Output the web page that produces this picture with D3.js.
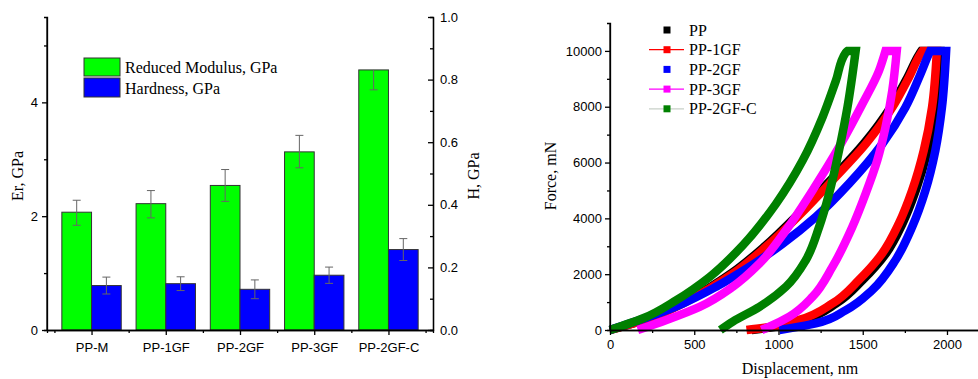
<!DOCTYPE html>
<html>
<head>
<meta charset="utf-8">
<script src="https://cdn.jsdelivr.net/npm/d3@7"></script>
<style>
  body { margin: 0; background: #fff; }
  .tick text { font-family: "Liberation Sans", Arial, sans-serif; font-size: 13px; fill: #000; }
  .serif { font-family: "Liberation Serif", "Times New Roman", serif; font-size: 16px; fill: #000; }
</style>
</head>
<body>
<svg id="chart" width="978" height="379"></svg>
<script>
// bar chart data
const categories = ["PP-M", "PP-1GF", "PP-2GF", "PP-3GF", "PP-2GF-C"];
const modulus = [2.07, 2.22, 2.54, 3.13, 4.57];
const modulusErrUp = [0.21, 0.23, 0.28, 0.29, 0];
const modulusErrDown = [0.23, 0.25, 0.28, 0.28, 0.35];
const hardness = [0.142, 0.148, 0.130, 0.175, 0.257];
const hardnessErr = [0.027, 0.022, 0.030, 0.026, 0.035];
const erTicks = [0, 2, 4];
const hTicks = [0, 0.2, 0.4, 0.6, 0.8, 1.0];

// load-displacement curves, [displacement nm, force mN]: loading, hold at max, unloading
const ppLoad = [[0,0],[232,425],[428,960],[585,1500],[722,2040],[918,3000],[1115,4140],[1312,5390],[1508,6690],[1667,8000],[1766,9060],[1836,9890],[1848,10000]];
const ppUnload = [[1960,10000],[1932,7970],[1885,6430],[1815,5000],[1736,3810],[1638,2740],[1500,1790],[1343,950],[1150,360],[990,120],[840,0]];
const pp1gfLoad = [[0,0],[236,420],[433,950],[591,1490],[729,2020],[926,2980],[1123,4110],[1320,5360],[1517,6660],[1675,7970],[1773,9040],[1842,9880],[1855,10000]];
const pp1gfUnload = [[1940,10000],[1911,7970],[1862,6430],[1793,5000],[1714,3810],[1615,2740],[1477,1790],[1320,950],[1123,360],[965,120],[810,0]];
const pp2gfLoad = [[0,0],[236,480],[433,950],[630,1550],[827,2260],[1024,3090],[1221,4050],[1418,5240],[1615,6660],[1753,7970],[1842,9160],[1891,9880],[1900,10000]];
const pp2gfUnload = [[1995,10000],[1970,7970],[1931,6430],[1872,5000],[1793,3690],[1694,2500],[1556,1430],[1399,710],[1221,240],[1064,60],[1005,0]];
const pp3gfLoad = [[165,0],[335,360],[532,830],[729,1550],[887,2380],[1044,3570],[1202,5000],[1359,6550],[1497,8090],[1596,9280],[1635,10000]];
const pp3gfUnload = [[1702,10000],[1675,8570],[1635,7260],[1586,6070],[1517,4880],[1438,3690],[1320,2260],[1202,1190],[1064,480],[946,120],[900,0]];
const pp2gfcLoad = [[0,0],[197,420],[394,1070],[591,1900],[788,3030],[985,4520],[1143,6070],[1261,7620],[1340,8920],[1399,9940],[1410,10000]];
const pp2gfcUnload = [[1458,10000],[1409,7970],[1359,6430],[1300,4880],[1241,3690],[1162,2500],[1044,1550],[887,830],[729,300],[655,0]];

const curveNames = ["PP", "PP-1GF", "PP-2GF", "PP-3GF", "PP-2GF-C"];
const curveColors = ["#000000", "#ff0000", "#0000ff", "#ff00ff", "#008000"];
const legendLines = [null, "#ff0000", null, "#ff00ff", "#c8d0c8"];
const forceTicks = [0, 2000, 4000, 6000, 8000, 10000];
const dispTicks = [0, 500, 1000, 1500, 2000];

const svg = d3.select("#chart");

// ---------- left: bar chart ----------
const bx = d3.scaleLinear().domain([0.4, 5.6]).range([47, 433]);
const byL = d3.scaleLinear().domain([0, 5.5]).range([330, 17]);
const byR = d3.scaleLinear().domain([0, 1]).range([330, 17]);
const barW = 0.4;

const bars = svg.append("g");
categories.forEach((c, i) => {
  const cx = i + 1;
  bars.append("rect")
    .attr("x", bx(cx - barW)).attr("width", bx(cx) - bx(cx - barW))
    .attr("y", byL(modulus[i])).attr("height", byL(0) - byL(modulus[i]))
    .attr("fill", "#00ff00").attr("stroke", "#333").attr("stroke-width", 1);
  bars.append("rect")
    .attr("x", bx(cx)).attr("width", bx(cx + barW) - bx(cx))
    .attr("y", byR(hardness[i])).attr("height", byR(0) - byR(hardness[i]))
    .attr("fill", "#0000ff").attr("stroke", "#333").attr("stroke-width", 1);
});

// error bars
function errBar(g, x, y0, y1, capTop, capBottom) {
  g.append("line").attr("x1", x).attr("x2", x).attr("y1", y0).attr("y2", y1)
    .attr("stroke", "#666").attr("stroke-width", 1);
  if (capTop) g.append("line").attr("x1", x - 4).attr("x2", x + 4).attr("y1", y1).attr("y2", y1)
    .attr("stroke", "#666").attr("stroke-width", 1);
  if (capBottom) g.append("line").attr("x1", x - 4).attr("x2", x + 4).attr("y1", y0).attr("y2", y0)
    .attr("stroke", "#666").attr("stroke-width", 1);
}
const errs = svg.append("g");
categories.forEach((c, i) => {
  const gx = bx(i + 1 - barW / 2);
  errBar(errs, gx, byL(modulus[i] - modulusErrDown[i]), byL(modulus[i] + modulusErrUp[i]),
    modulusErrUp[i] > 0, modulusErrDown[i] > 0);
  const hx = bx(i + 1 + barW / 2);
  errBar(errs, hx, byR(hardness[i] - hardnessErr[i]), byR(hardness[i] + hardnessErr[i]), true, true);
});

// axes
const axL = svg.append("g").attr("transform", "translate(47,0)");
axL.call(d3.axisLeft(byL).tickValues(erTicks).tickSize(5).tickSizeOuter(0).tickPadding(4).tickFormat(d3.format("d")));
axL.append("g").call(d3.axisLeft(byL).tickValues([1, 3, 5]).tickSize(3).tickFormat(""));
axL.select(".domain").attr("d", "M0," + byL(5.5) + "V" + byL(0));

const axR = svg.append("g").attr("transform", "translate(433,0)");
axR.call(d3.axisRight(byR).tickValues(hTicks).tickSizeInner(-5).tickSizeOuter(0).tickPadding(7)
  .tickFormat(d3.format(".1f")));
axR.append("g").call(d3.axisRight(byR).tickValues([0.1, 0.3, 0.5, 0.7, 0.9]).tickSize(-3).tickFormat(""));

const axB = svg.append("g").attr("transform", "translate(0,330)");
axB.call(d3.axisBottom(bx).tickValues([1, 2, 3, 4, 5]).tickSize(5).tickSizeOuter(0).tickPadding(8)
  .tickFormat((d) => categories[d - 1]));
axB.append("g").call(d3.axisBottom(bx).tickValues([0.5, 1.5, 2.5, 3.5, 4.5, 5.5]).tickSize(3).tickFormat(""));

svg.append("text").attr("class", "serif")
  .attr("transform", "translate(23,176) rotate(-90)").attr("text-anchor", "middle").text("Er, GPa");
svg.append("text").attr("class", "serif")
  .attr("transform", "translate(479,176) rotate(-90)").attr("text-anchor", "middle").text("H, GPa");

// bar legend
const bl = svg.append("g");
bl.append("rect").attr("x", 84).attr("y", 58).attr("width", 36).attr("height", 18)
  .attr("fill", "#00ff00").attr("stroke", "#333");
bl.append("rect").attr("x", 84).attr("y", 78).attr("width", 36).attr("height", 19)
  .attr("fill", "#0000ff").attr("stroke", "#333");
bl.append("text").attr("class", "serif").attr("x", 125).attr("y", 73).text("Reduced Modulus, GPa");
bl.append("text").attr("class", "serif").attr("x", 125).attr("y", 94).text("Hardness, GPa");

// ---------- right: load-displacement ----------
const lx = d3.scaleLinear().domain([0, 2190]).range([610, 979]);
const ly = d3.scaleLinear().domain([0, 11000]).range([330, 23]);

const branch = d3.line().x((d) => lx(d[0])).y((d) => ly(d[1])).curve(d3.curveMonotoneY);
const loads = [ppLoad, pp1gfLoad, pp2gfLoad, pp3gfLoad, pp2gfcLoad];
const unloads = [ppUnload, pp1gfUnload, pp2gfUnload, pp3gfUnload, pp2gfcUnload];
const cg = svg.append("g");
loads.forEach((ld, i) => {
  // loading branch, then straight hold at max force, then unloading branch in one path
  const d = branch(ld) + "L" + branch(unloads[i]).slice(1);
  cg.append("path")
    .attr("d", d)
    .attr("fill", "none")
    .attr("stroke", curveColors[i])
    .attr("stroke-width", 8.5)
    .attr("stroke-linejoin", "miter")
    .attr("stroke-miterlimit", 10);
});

const ayL = svg.append("g").attr("transform", "translate(610,0)");
ayL.call(d3.axisLeft(ly).tickValues(forceTicks).tickSize(5).tickSizeOuter(0).tickPadding(3).tickFormat(d3.format("d")));
ayL.append("g").call(d3.axisLeft(ly).tickValues([1000, 3000, 5000, 7000, 9000]).tickSize(3).tickFormat(""));
ayL.select(".domain").attr("d", "M0," + ly(11000) + "V" + ly(0));

const axX = svg.append("g").attr("transform", "translate(0,330)");
axX.call(d3.axisBottom(lx).tickValues(dispTicks).tickSize(5).tickSizeOuter(0).tickPadding(5).tickFormat(d3.format("d")));
axX.append("g").call(d3.axisBottom(lx).tickValues([250, 750, 1250, 1750]).tickSize(3).tickFormat(""));

svg.selectAll(".domain, .tick line").attr("stroke", "#000").attr("stroke-width", 1.3);

svg.append("text").attr("class", "serif")
  .attr("transform", "translate(556,176) rotate(-90)").attr("text-anchor", "middle").text("Force, mN");
svg.append("text").attr("class", "serif")
  .attr("x", 800).attr("y", 374).attr("text-anchor", "middle").text("Displacement, nm");

// curve legend
const cl = svg.append("g");
curveNames.forEach((n, i) => {
  const y = 30 + i * 19.7;
  if (legendLines[i]) {
    cl.append("line").attr("x1", 649).attr("x2", 684).attr("y1", y).attr("y2", y)
      .attr("stroke", legendLines[i]).attr("stroke-width", 1.3);
  }
  cl.append("rect").attr("x", 663.5).attr("y", y - 3.5).attr("width", 7).attr("height", 7)
    .attr("fill", curveColors[i]);
  cl.append("text").attr("class", "serif").attr("x", 689).attr("y", y + 5.5).text(n);
});
</script>
</body>
</html>
